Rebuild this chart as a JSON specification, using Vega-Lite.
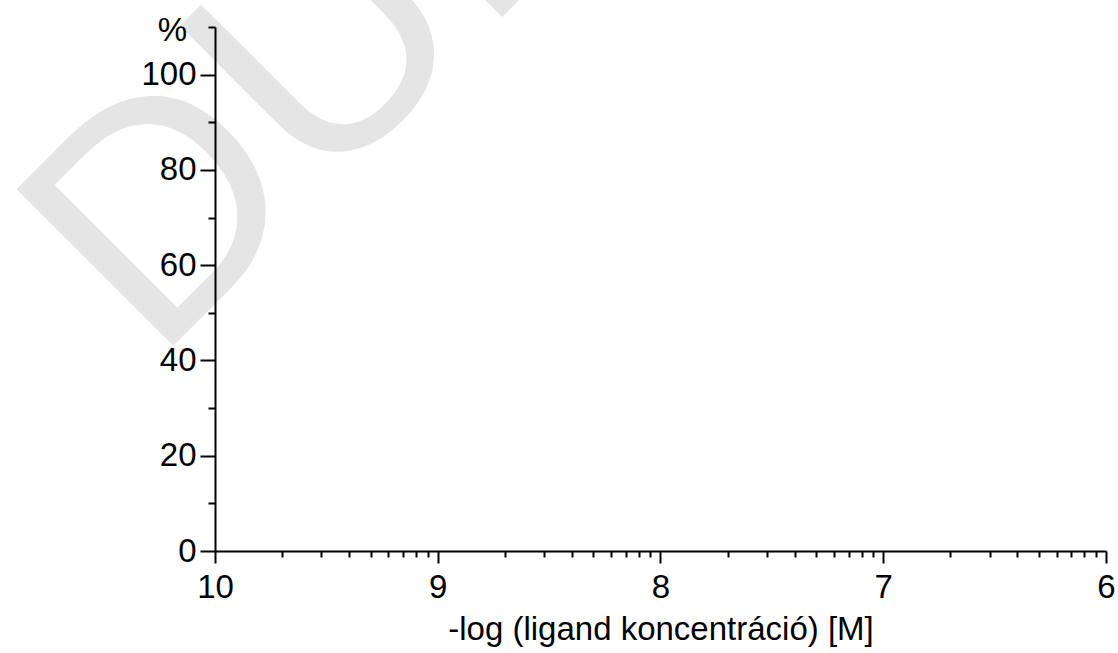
{
  "$schema": "https://vega.github.io/schema/vega-lite/v6.json",
  "width": 891,
  "height": 524,
  "autosize": {"type": "none"},
  "padding": {"left": 215, "top": 27, "right": 12, "bottom": 102},
  "background": "white",
  "config": {"view": {"stroke": null}, "font": "Liberation Sans"},
  "datasets": {
    "watermark": [
      {"text": "DUPLIKÁTUM", "concentration": 5.35e-11, "percent": 39.15}
    ]
  },
  "layer": [
    {
      "data": {"name": "watermark"},
      "mark": {
        "type": "text",
        "angle": -45,
        "align": "left",
        "baseline": "alphabetic",
        "fontSize": 322,
        "font": "Liberation Sans",
        "color": "#e5e5e5"
      },
      "encoding": {
        "x": {
          "field": "concentration",
          "type": "quantitative",
          "scale": {"type": "log", "domain": [1e-10, 1e-6], "nice": false},
          "axis": {
            "orient": "bottom",
            "zindex": 1,
            "values": [1e-10, 1e-9, 1e-8, 1e-7, 1e-6],
            "labelExpr": "'' + round(-log(datum.value) / LN10)",
            "grid": false,
            "domainColor": "black",
            "domainWidth": 2,
            "tickColor": "black",
            "tickWidth": 2,
            "tickSize": 12,
            "labelFont": "Liberation Sans",
            "labelFontSize": 33,
            "labelColor": "black",
            "labelPadding": 8,
            "labelFlush": false,
            "labelOverlap": false,
            "title": "-log (ligand koncentráció) [M]",
            "titleFont": "Liberation Sans",
            "titleFontSize": 33,
            "titleFontWeight": "normal",
            "titleColor": "black",
            "titleBaseline": "alphabetic",
            "titleY": 88
          }
        },
        "y": {
          "field": "percent",
          "type": "quantitative",
          "scale": {"domain": [0, 110], "nice": false, "zero": true},
          "axis": {
            "orient": "left",
            "zindex": 1,
            "values": [0, 20, 40, 60, 80, 100],
            "grid": false,
            "domainColor": "black",
            "domainWidth": 2,
            "tickColor": "black",
            "tickWidth": 2,
            "tickSize": 15,
            "labelFont": "Liberation Sans",
            "labelFontSize": 33,
            "labelColor": "black",
            "labelPadding": 4,
            "labelFlush": false,
            "labelOverlap": false,
            "title": "%",
            "titleFont": "Liberation Sans",
            "titleFontSize": 33,
            "titleFontWeight": "normal",
            "titleColor": "black",
            "titleAngle": 0,
            "titleAlign": "center",
            "titleBaseline": "alphabetic",
            "titleX": -43,
            "titleY": 13
          }
        },
        "text": {"field": "text"}
      }
    },
    {
      "data": {"name": "watermark"},
      "mark": {"type": "point", "opacity": 0},
      "encoding": {
        "x": {
          "field": "concentration",
          "type": "quantitative",
          "axis": {
            "orient": "bottom",
            "zindex": 1,
            "values": [2e-10, 3e-10, 4e-10, 5e-10, 6e-10, 7e-10, 8e-10, 9e-10, 2e-9, 3e-9, 4e-9, 5e-9, 6e-9, 7e-9, 8e-9, 9e-9, 2e-8, 3e-8, 4e-8, 5e-8, 6e-8, 7e-8, 8e-8, 9e-8, 2e-7, 3e-7, 4e-7, 5e-7, 6e-7, 7e-7, 8e-7, 9e-7],
            "grid": false,
            "domain": false,
            "labels": false,
            "tickColor": "black",
            "tickWidth": 2,
            "tickSize": 6,
            "title": null
          }
        },
        "y": {
          "field": "percent",
          "type": "quantitative",
          "axis": {
            "orient": "left",
            "zindex": 1,
            "values": [10, 30, 50, 70, 90, 110],
            "grid": false,
            "domain": false,
            "labels": false,
            "tickColor": "black",
            "tickWidth": 2,
            "tickSize": 7,
            "title": null
          }
        }
      }
    }
  ],
  "resolve": {"axis": {"x": "independent", "y": "independent"}}
}
